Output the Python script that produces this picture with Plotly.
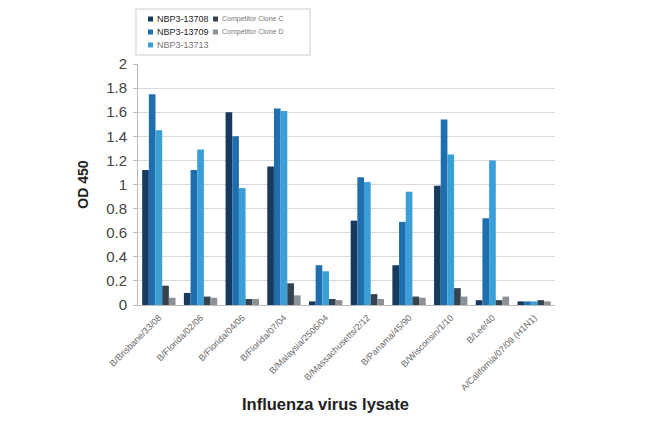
import plotly.graph_objects as go

strains = [
    "B/Brisbane/33/08", "B/Florida/02/06", "B/Florida/04/06", "B/Florida/07/04",
    "B/Malaysia/2506/04", "B/Massachusetts/2/12", "B/Panama/45/90",
    "B/Wisconsin/1/10", "B/Lee/40", "A/California/07/09 (H1N1)",
]
nbp3_13708 = [1.12, 0.10, 1.60, 1.15, 0.03, 0.70, 0.33, 0.99, 0.04, 0.03]
nbp3_13709 = [1.75, 1.12, 1.40, 1.63, 0.33, 1.06, 0.69, 1.54, 0.72, 0.03]
nbp3_13713 = [1.45, 1.29, 0.97, 1.61, 0.28, 1.02, 0.94, 1.25, 1.20, 0.03]
clone_c = [0.16, 0.07, 0.05, 0.18, 0.05, 0.09, 0.07, 0.14, 0.04, 0.04]
clone_d = [0.06, 0.06, 0.05, 0.08, 0.04, 0.05, 0.06, 0.07, 0.07, 0.03]

series = [
    ("NBP3-13708", nbp3_13708, "#173a5e"),
    ("NBP3-13709", nbp3_13709, "#1f6fae"),
    ("NBP3-13713", nbp3_13713, "#3a9fd6"),
    ("Competitor Clone C", clone_c, "#34434f"),
    ("Competitor Clone D", clone_d, "#8c9196"),
]

# page has an 8px body margin, so the figure is drawn 8px in from the corner
OFF = 8
W, H = 650 - 2 * OFF, 423 - 2 * OFF
# plot area in page pixels
L, R, T, B = 138, 555, 64, 305


def px(x):
    return (x - L) / (R - L)


def py(y):
    return (B - y) / (B - T)


fig = go.Figure()
for name, vals, color in series:
    fig.add_trace(go.Bar(x=strains, y=vals, name=name,
                         marker=dict(color=color, line=dict(width=0))))

# hand-built legend box, Excel style (two columns, tight rows)
shapes = [dict(type="rect", xref="paper", yref="paper",
               x0=px(136), x1=px(310), y0=py(55), y1=py(9),
               line=dict(color="#cccccc", width=1), fillcolor="white")]
annotations = []
legend_pos = [(151, 19, 9, "#222"), (151, 32, 9, "#222"), (151, 45, 9, "#777"),
              (216, 19, 7, "#777"), (216, 32, 7, "#777")]
for (name, _, color), (lx, ly, fs, fc) in zip(series, legend_pos):
    shapes.append(dict(type="rect", xref="paper", yref="paper",
                       x0=px(lx - 3), x1=px(lx + 2), y0=py(ly + 2.5), y1=py(ly - 2.5),
                       line=dict(width=0), fillcolor=color))
    annotations.append(dict(text=name, xref="paper", yref="paper",
                            x=px(lx + 4), y=py(ly), xanchor="left", yanchor="middle",
                            showarrow=False, font=dict(size=fs, color=fc)))

annotations.append(dict(
    text="<b>Influenza virus lysate</b>", xref="paper", yref="paper",
    x=px(325), y=py(404), xanchor="center", yanchor="middle", showarrow=False,
    font=dict(size=16.5, color="#222"),
))

fig.update_layout(
    width=W, height=H,
    paper_bgcolor="white", plot_bgcolor="white",
    margin=dict(l=L - OFF, r=W - (R - OFF), t=T - OFF, b=H - (B - OFF), autoexpand=False),
    barmode="group", bargap=0.2, bargroupgap=0,
    font=dict(family="Arial, Liberation Sans, sans-serif", color="#333"),
    showlegend=False,
    xaxis=dict(
        tickangle=-45, tickfont=dict(size=9, color="#666"),
        showline=True, linecolor="#bbbbbb", linewidth=1,
        showgrid=False, ticks="", ticklabelstandoff=3,
    ),
    yaxis=dict(
        range=[0, 2], dtick=0.2, tickformat="~g",
        tickfont=dict(size=15, color="#444"), ticklabelstandoff=3,
        showline=True, linecolor="#bbbbbb", ticks="outside", ticklen=4,
        tickcolor="#bbbbbb",
        gridcolor="#d9d9d9", gridwidth=1, zeroline=False,
        title=dict(text="<b>OD 450</b>", font=dict(size=14, color="#222"), standoff=14),
    ),
    shapes=shapes,
    annotations=annotations,
)

fig.write_html("out.html")
